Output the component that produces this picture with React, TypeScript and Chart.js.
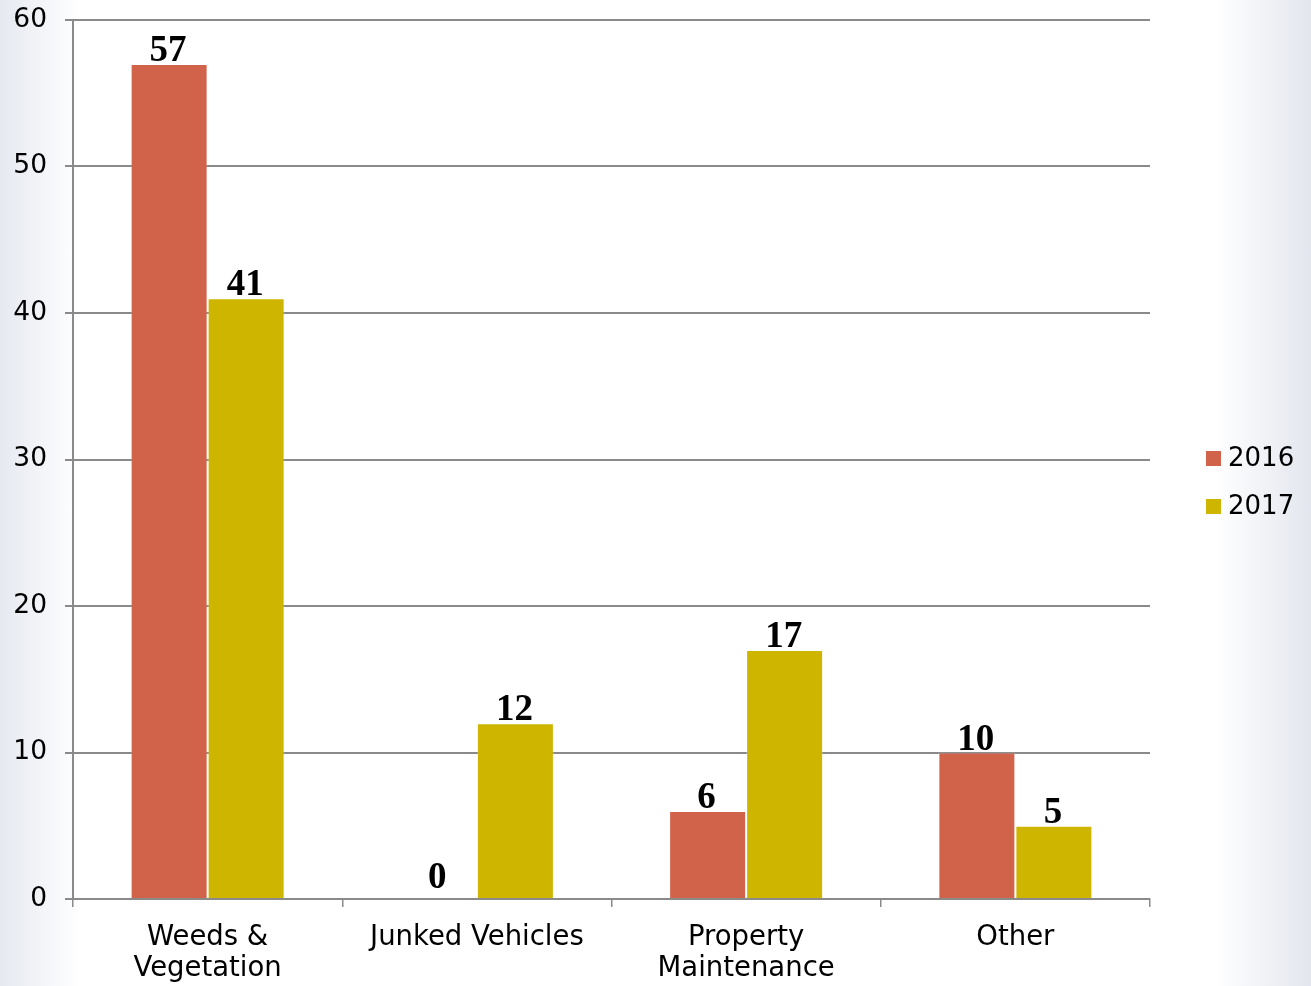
import React, { useEffect, useRef } from "react";
import { Chart, registerables } from "chart.js";

Chart.register(...registerables);

const categories: string[][] = [["Weeds &", "Vegetation"], ["Junked Vehicles"], ["Property", "Maintenance"], ["Other"]];
const seriesNames = ["2016", "2017"];
const values2016 = [57, 0, 6, 10];
const values2017 = [41, 12, 17, 5];
const yTicks = [0, 10, 20, 30, 40, 50, 60];

const colors = ["#D2634B", "#CDB500"];
const FONT = "'DejaVu Sans', Verdana, sans-serif";

const labelPlugin = {
  id: "valueLabels",
  afterDatasetsDraw(chart: any) {
    const ctx = chart.ctx;
    ctx.save();
    ctx.font = "bold 37px 'Liberation Serif', 'Times New Roman', serif";
    ctx.fillStyle = "#000";
    ctx.textAlign = "center";
    ctx.textBaseline = "alphabetic";
    chart.data.datasets.forEach((ds: any, di: number) => {
      const meta = chart.getDatasetMeta(di);
      meta.data.forEach((bar: any, i: number) => {
        const v = ds.data[i];
        const off = v === 0 ? 11 : 3;
        ctx.fillText(String(v), bar.x - 1, bar.y - off);
      });
    });
    ctx.restore();
  },
};

const legendPlugin = {
  id: "sideLegend",
  afterDraw(chart: any) {
    const ctx = chart.ctx;
    const area = chart.chartArea;
    ctx.save();
    ctx.font = `26px ${FONT}`;
    ctx.textBaseline = "middle";
    ctx.textAlign = "left";
    const x = area.right + 56;
    const yc = (area.top + area.bottom) / 2 + 23;
    const n = chart.data.datasets.length;
    chart.data.datasets.forEach((ds: any, i: number) => {
      const y = yc + (i - (n - 1) / 2) * 48;
      ctx.fillStyle = ds.backgroundColor;
      ctx.fillRect(x, y - 7.5, 15, 15);
      ctx.fillStyle = "#000";
      ctx.fillText(ds.label, x + 22, y + 1);
    });
    ctx.restore();
  },
};

export default function App() {
  const ref = useRef<HTMLCanvasElement>(null);
  useEffect(() => {
    if (!ref.current) return;
    const chart = new Chart(ref.current, {
      type: "bar",
      data: {
        labels: categories,
        datasets: [
          { label: seriesNames[0], data: values2016, backgroundColor: colors[0], borderColor: "rgba(255,255,255,0.2)", borderWidth: 1 },
          { label: seriesNames[1], data: values2017, backgroundColor: colors[1], borderColor: "rgba(255,255,255,0.2)", borderWidth: 1 },
        ],
      },
      options: {
        animation: false,
        responsive: false,
        devicePixelRatio: 1,
        layout: { padding: { left: 13, right: 161, top: 20, bottom: 0 } },
        datasets: { bar: { barPercentage: 1, categoryPercentage: 0.572 } },
        plugins: { legend: { display: false }, tooltip: { enabled: false } },
        scales: {
          x: {
            afterFit: (scale: any) => {
              scale.height = 87;
              scale.paddingLeft = 0;
              scale.paddingRight = 0;
            },
            grid: { drawOnChartArea: false, drawTicks: true, tickLength: 8, color: "#8a8a8a", lineWidth: 1.5 },
            border: { color: "#8a8a8a", width: 2 },
            ticks: { color: "#000", font: { family: FONT, size: 27.5, lineHeight: 1.13 }, padding: 15, maxRotation: 0, autoSkip: false },
          },
          y: {
            min: 0,
            max: 60,
            afterBuildTicks: (scale: any) => {
              scale.ticks = yTicks.map((v) => ({ value: v }));
            },
            afterFit: (scale: any) => {
              scale.width = 60;
              scale.paddingTop = 0;
              scale.paddingBottom = 0;
            },
            grid: { color: "#8a8a8a", lineWidth: 2, tickLength: 8 },
            border: { color: "#8a8a8a", width: 2 },
            ticks: { color: "#000", font: { family: FONT, size: 26.5 }, padding: 18 },
          },
        },
      },
      plugins: [labelPlugin, legendPlugin],
    });
    return () => chart.destroy();
  }, []);
  return (
    <div
      style={{
        position: "fixed",
        left: 0,
        top: 0,
        width: 1311,
        height: 986,
        background: "linear-gradient(to right, #e6e9f0 0px, #ffffff 80px, #ffffff 1215px, #e3e6ee 1311px)",
      }}
    >
      <canvas ref={ref} width={1311} height={986} style={{ display: "block" }} />
    </div>
  );
}
